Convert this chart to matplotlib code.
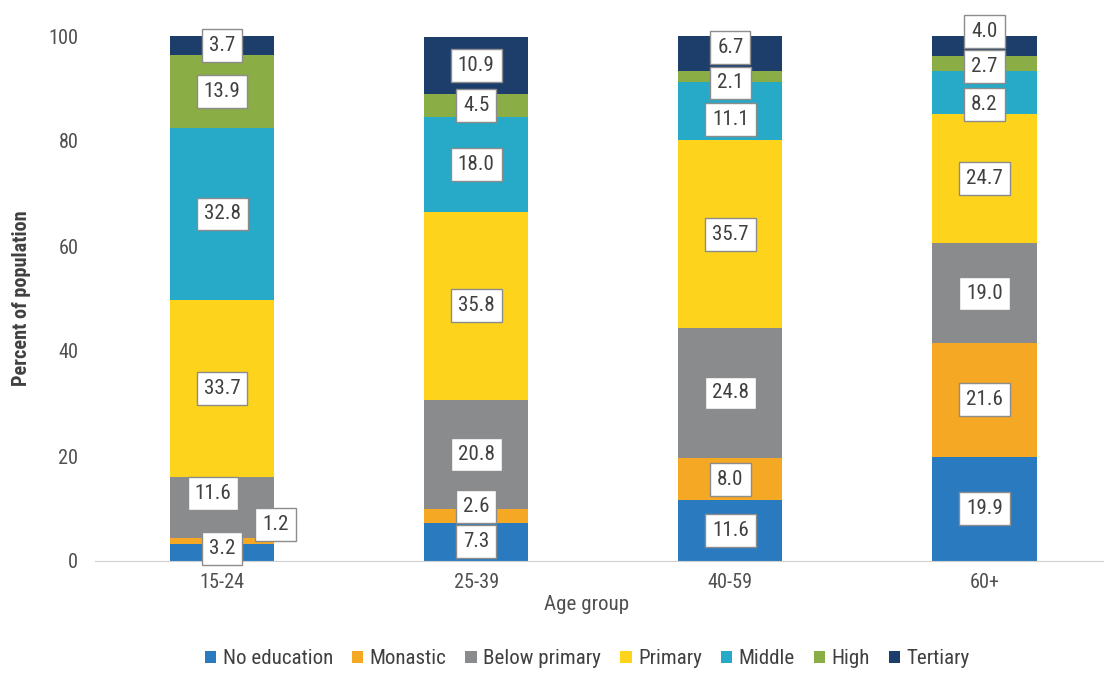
import matplotlib
matplotlib.use('Agg')
import matplotlib.pyplot as plt
import numpy as np
from matplotlib import font_manager

# Data
age_groups = ['15-24', '25-39', '40-59', '60+']
categories = ['No education', 'Monastic', 'Below primary', 'Primary', 'Middle', 'High', 'Tertiary']
no_education = [3.2, 7.3, 11.6, 19.9]
monastic = [1.2, 2.6, 8.0, 21.6]
below_primary = [11.6, 20.8, 24.8, 19.0]
primary = [33.7, 35.8, 35.7, 24.7]
middle = [32.8, 18.0, 11.1, 8.2]
high = [13.9, 4.5, 2.1, 2.7]
tertiary = [3.7, 10.9, 6.7, 4.0]
yticks = [0, 20, 40, 60, 80, 100]

series = [no_education, monastic, below_primary, primary, middle, high, tertiary]
colors = ['#2a7abf', '#f5a823', '#8a8b8d', '#fdd31c', '#27a9c8', '#8aad45', '#1d3e6b']

# Label nudges (dx in bar units, dy in percent) where the original moved boxes apart
nudge = {
    (0, 0): (0, 0.7), (1, 0): (0.21, 3.2), (2, 0): (-0.035, 2.6),
    (1, 1): (0, 1.7),
    (4, 2): (0, -1.6), (5, 2): (0, -1.2), (6, 2): (0, 1.2),
    (4, 3): (0, -2.4), (5, 3): (0, -0.6), (6, 3): (0, 2.7),
}

# narrow font if there is one, otherwise Liberation Sans
names = {f.name for f in font_manager.fontManager.ttflist}
narrow = None
for cand in ['Liberation Sans Narrow', 'Arial Narrow', 'Roboto Condensed',
             'Open Sans Condensed', 'DejaVu Sans Condensed']:
    if cand in names:
        narrow = cand
        break
fam = narrow if narrow else 'Liberation Sans'
k = 1.08 if narrow else 1.0
plt.rcParams['font.family'] = [fam, 'DejaVu Sans']

fig = plt.figure(figsize=(11.04, 6.73), dpi=100)
ax = fig.add_axes([95 / 1104, 112 / 673, 1009 / 1104, 525 / 673])

x = np.arange(len(age_groups))
bar_width = 0.41
bottom = np.zeros(len(age_groups))
for i, (vals, col, name) in enumerate(zip(series, colors, categories)):
    vals = np.array(vals)
    ax.bar(x, vals, bar_width, bottom=bottom, color=col, label=name, zorder=2)
    for j in range(len(age_groups)):
        dx, dy = nudge.get((i, j), (0, 0))
        ax.text(x[j] + dx, bottom[j] + vals[j] / 2 + dy, f'{vals[j]:.1f}',
                ha='center', va='center', fontsize=14 * k, color='#404040', zorder=5,
                bbox=dict(boxstyle='square,pad=0.33', facecolor='white',
                          edgecolor='#8c8c8c', linewidth=1.0))
    bottom += vals

ax.set_xlim(-0.5, 3.47)
ax.set_ylim(0, 100)
ax.set_yticks(yticks)
ax.set_xticks(x)
ax.set_xticklabels(age_groups)
ax.tick_params(axis='both', length=0, labelsize=13.5 * k, colors='#505050')
ax.tick_params(axis='y', pad=12)
ax.tick_params(axis='x', pad=9)
for s in ['top', 'right', 'left']:
    ax.spines[s].set_visible(False)
ax.spines['bottom'].set_color('#d0d0d0')
ax.set_ylabel('Percent of population', fontsize=13.5 * k, fontweight='bold', color='#404040')
ax.yaxis.set_label_coords(-0.063, 0.5)
ax.set_xlabel('Age group', fontsize=14 * k, color='#505050')
ax.xaxis.set_label_coords(0.487, -0.065)

handles, labels = ax.get_legend_handles_labels()
fig.legend(handles, labels, loc='center', bbox_to_anchor=(0.532, 0.021), ncol=7,
           frameon=False, fontsize=14 * k, handlelength=0.55, handleheight=0.55,
           handletextpad=0.3, columnspacing=0.9, labelcolor='#404040')

fig.savefig('out.png', dpi=100)
